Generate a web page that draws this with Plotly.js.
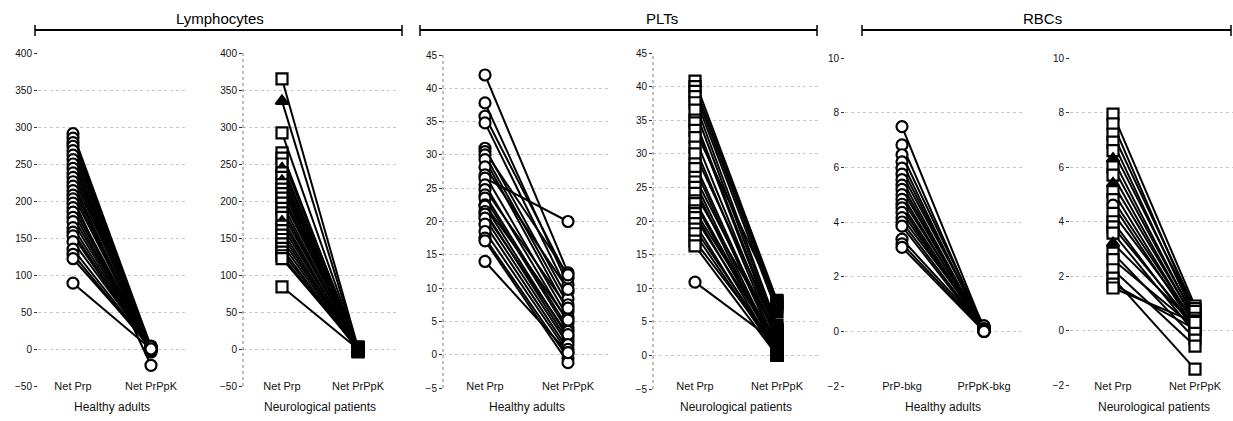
<!DOCTYPE html>
<html>
<head>
<meta charset="utf-8">
<script src="https://cdn.plot.ly/plotly-3.0.1.min.js"></script>
<style>html,body{margin:0;padding:0;background:#fff}#chart{width:1233px;height:421px}</style>
</head>
<body>
<div id="chart"></div>
<script>
// ---------- DATA ----------
const groupTitles = ["Lymphocytes", "PLTs", "RBCs"];
const panelTitles = ["Healthy adults", "Neurological patients", "Healthy adults", "Neurological patients", "Healthy adults", "Neurological patients"];
const ticksNet = ["Net Prp", "Net PrPpK"];
const ticksBkg = ["PrP-bkg", "PrPpK-bkg"];

// Lymphocytes – healthy adults
const lymHealthyPre  = [291, 285, 279, 274, 268, 262, 256, 250, 244, 238, 232, 226, 220, 214, 208, 203, 197, 191, 185, 178, 172, 164, 158, 153, 145, 135, 128, 122, 89];
const lymHealthyPost = [3, 0, 2, 1, 4, 0, -2, 2, 1, 0, 3, -4, 1, 0, 2, -22, 1, 0, -3, 2, 0, 1, -1, 0, 2, 1, 0, 3, 0];
// Lymphocytes – neurological patients
const lymNeuroPre    = [365, 335, 292, 265, 258, 250, 244, 238, 232, 227, 222, 216, 210, 204, 197, 190, 184, 178, 172, 166, 160, 154, 148, 142, 136, 131, 126, 122, 84];
const lymNeuroPost   = [2, 0, 1, -2, 3, 0, 1, -3, 2, 0, -1, 1, 0, 2, -2, 0, 1, -4, 0, 2, -1, 0, 1, 0, -2, 1, 0, 2, 0];
const lymNeuroGroup  = ["A", "B", "A", "A", "A", "A", "B", "A", "A", "B", "A", "A", "A", "A", "A", "A", "A", "A", "B", "A", "A", "A", "A", "A", "A", "A", "A", "A", "A"];

// PLTs – healthy adults
const pltHealthyPre  = [42, 37.8, 35.8, 34.8, 31, 30.5, 30, 29.3, 28.2, 27, 26.5, 25.5, 24.8, 24, 23.5, 22.5, 22.3, 21.5, 21.1, 20.5, 19.6, 18.5, 17.5, 17.1, 14];
const pltHealthyPost = [12.3, 10.5, 11.5, 9.5, 8.4, 12, 7.5, 6.5, 9.8, 5.6, 20, 4.8, 7, 4, 3.5, 5.2, 2.6, 2, 3, 1.5, 0.8, 0.3, -0.5, -1.2, 0.3];

// PLTs – neurological patients
const pltNeuroPre    = [40.8, 40, 39.3, 38.5, 37.6, 36.5, 35, 34.6, 33.5, 32.4, 31, 30, 28.5, 27.8, 26.5, 25.8, 25, 24.1, 23, 22.6, 21.5, 21.1, 20.5, 19.6, 18.8, 18.1, 17, 16.3, 10.9];
const pltNeuroPost   = [8.2, 7.8, 7.2, 6.5, 4.5, 4, 3.5, 3, 8, 2.5, 2, 3.8, 1.5, 1, 2.8, 0.5, 0, 3.2, 1.2, 0.6, 2, 0.2, 1.5, 0, 0.8, 0.3, 1, 0, 1.8];
const pltNeuroGroup  = ["A", "A", "A", "A", "A", "A", "A", "A", "A", "A", "A", "A", "A", "A", "A", "A", "A", "A", "A", "A", "A", "A", "A", "A", "A", "A", "A", "A", "C"];

// RBCs – healthy adults
const rbcHealthyPre  = [7.49, 6.82, 6.46, 6.2, 5.97, 5.75, 5.55, 5.35, 5.19, 5.0, 4.83, 4.65, 4.52, 4.35, 4.16, 4.0, 3.85, 3.37, 3.2, 3.07];
const rbcHealthyPost = [0.1, 0.05, 0.15, 0, 0.1, 0.2, 0, 0.05, 0.1, 0, 0.15, 0.05, 0, 0.1, 0.2, 0.05, 0, 0.1, 0.05, 0];

// RBCs – neurological patients
const rbcNeuroPre    = [7.94, 7.58, 7.21, 6.91, 6.6, 6.3, 6.0, 5.7, 5.39, 5.1, 4.8, 4.6, 4.3, 3.99, 3.8, 3.57, 3.2, 2.84, 2.6, 2.23, 1.92, 1.7, 1.56];
const rbcNeuroPost   = [0.9, 0.6, 0.8, 0.5, 0.7, 0.4, 0.45, 0.3, 0.35, 0.2, 0.25, 0.1, 0.3, 0, 0.15, -0.1, 0.2, -0.3, 0.1, -0.57, -1.42, 0.05, 0.3];
const rbcNeuroGroup  = ["A", "A", "A", "A", "A", "B", "A", "A", "B", "A", "A", "C", "A", "A", "A", "A", "B", "A", "A", "A", "A", "A", "A"];

// ---------- STYLE / LAYOUT ----------
const W = 1233, H = 421;
const FONT = "Liberation Sans, Arial, sans-serif";
const symbolOf = {A: "square-open", B: "triangle-up", C: "circle-open"};

const panels = [
  {pre: lymHealthyPre, post: lymHealthyPost, grp: null, sym: "circle", ticks: ticksNet, xpx: [38, 186], c0: 73, c1: 151, ypx: [53, 386], yr: [-50, 400], dt: 50, rightFill: "white", axLine: false},
  {pre: lymNeuroPre, post: lymNeuroPost, grp: lymNeuroGroup, sym: "square", ticks: ticksNet, xpx: [243, 396], c0: 282, c1: 358, ypx: [53, 386], yr: [-50, 400], dt: 50, rightFill: "black", axLine: true},
  {pre: pltHealthyPre, post: pltHealthyPost, grp: null, sym: "circle", ticks: ticksNet, xpx: [443, 609], c0: 485, c1: 568, ypx: [55, 388], yr: [-5, 45], dt: 5, rightFill: "white", axLine: true},
  {pre: pltNeuroPre, post: pltNeuroPost, grp: pltNeuroGroup, sym: "square", ticks: ticksNet, xpx: [653, 818], c0: 695, c1: 777, ypx: [53, 389], yr: [-5, 45], dt: 5, rightFill: "black", axLine: true},
  {pre: rbcHealthyPre, post: rbcHealthyPost, grp: null, sym: "circle", ticks: ticksBkg, xpx: [845, 1025], c0: 902, c1: 984, ypx: [58, 386], yr: [-2, 10], dt: 2, rightFill: "white", axLine: false},
  {pre: rbcNeuroPre, post: rbcNeuroPost, grp: rbcNeuroGroup, sym: "square", ticks: ticksNet, xpx: [1070, 1233], c0: 1113, c1: 1195, ypx: [58, 385], yr: [-2, 10], dt: 2, rightFill: "white", axLine: false}
];

const traces = [];
const layout = {
  width: W, height: H,
  margin: {l: 0, r: 0, t: 0, b: 0},
  paper_bgcolor: "white", plot_bgcolor: "rgba(0,0,0,0)",
  showlegend: false,
  font: {family: FONT, color: "#111", size: 10},
  shapes: [], annotations: []
};

panels.forEach((p, i) => {
  const n = i + 1;
  const xa = n === 1 ? "x" : "x" + n, ya = n === 1 ? "y" : "y" + n;
  const xs = [], ys = [], syms = [], cols = [];
  p.pre.forEach((v, k) => {
    let s = p.sym + "-open";
    let fillL = "white";
    if (p.grp) {
      const g = p.grp[k];
      s = symbolOf[g];
      if (g === "B") fillL = "black";
    }
    const base = s.replace("-open", "");
    xs.push(0, 1, null);
    ys.push(v, p.post[k], null);
    syms.push(base, base === "triangle-up" ? "square" : base, base);
    cols.push(fillL, p.rightFill, "white");
  });
  traces.push({
    type: "scatter", mode: "lines+markers", xaxis: xa, yaxis: ya,
    x: xs, y: ys, connectgaps: false, hoverinfo: "skip",
    line: {color: "black", width: 2},
    marker: {symbol: syms, size: 11, color: cols, line: {color: "black", width: 2.2}}
  });
  const unit = (p.c1 - p.c0);
  const axKey = n === 1 ? "xaxis" : "xaxis" + n;
  const ayKey = n === 1 ? "yaxis" : "yaxis" + n;
  layout[axKey] = {
    domain: [p.xpx[0] / W, p.xpx[1] / W],
    range: [(p.xpx[0] - p.c0) / unit, (p.xpx[1] - p.c0) / unit],
    anchor: "free", position: 1 - 378 / H,
    tickmode: "array", tickvals: [0, 1], ticktext: p.ticks,
    showgrid: false, zeroline: false, showline: false, ticks: "",
    tickfont: {family: FONT, size: 11, color: "#111"},
    fixedrange: true
  };
  layout[ayKey] = {
    domain: [1 - p.ypx[1] / H, 1 - p.ypx[0] / H],
    range: p.yr, dtick: p.dt, tick0: 0,
    anchor: xa,
    showgrid: true, gridcolor: "rgba(0,0,0,0.22)", griddash: "dot", gridwidth: 1,
    zeroline: false, showline: false,
    ticks: "outside", ticklen: 3, tickcolor: "#333", tickwidth: 1,
    tickfont: {family: FONT, size: 10, color: "#111"},
    fixedrange: true
  };
  if (p.axLine) {
    layout.shapes.push({type: "line", xref: "paper", yref: "paper",
      x0: p.xpx[0] / W, x1: p.xpx[0] / W, y0: 1 - p.ypx[1] / H, y1: 1 - p.ypx[0] / H,
      line: {color: "rgba(0,0,0,0.5)", width: 1, dash: "dot"}});
  }
  layout.annotations.push({
    text: panelTitles[i], xref: xa, x: 0.5, yref: "paper", y: 1 - 407 / H,
    showarrow: false, xanchor: "center", yanchor: "middle",
    font: {family: FONT, size: 12, color: "#111"}
  });
});

// group headers with bracket lines
const groupSpans = [[35, 402, 220], [420, 817, 662], [862, 1231, 1042]];
groupSpans.forEach((g, i) => {
  layout.annotations.push({
    text: groupTitles[i], xref: "paper", yref: "paper", x: g[2] / W, y: 1 - 18 / H,
    showarrow: false, xanchor: "center", yanchor: "middle",
    font: {family: FONT, size: 15, color: "#000"}
  });
  layout.shapes.push({type: "line", xref: "paper", yref: "paper",
    x0: g[0] / W, x1: g[1] / W, y0: 1 - 30 / H, y1: 1 - 30 / H, line: {color: "black", width: 2}});
  [g[0], g[1]].forEach(xp => layout.shapes.push({type: "line", xref: "paper", yref: "paper",
    x0: xp / W, x1: xp / W, y0: 1 - 25 / H, y1: 1 - 36 / H, line: {color: "black", width: 1.5}}));
});

Plotly.newPlot("chart", traces, layout, {displayModeBar: false, staticPlot: true});
</script>
</body>
</html>
